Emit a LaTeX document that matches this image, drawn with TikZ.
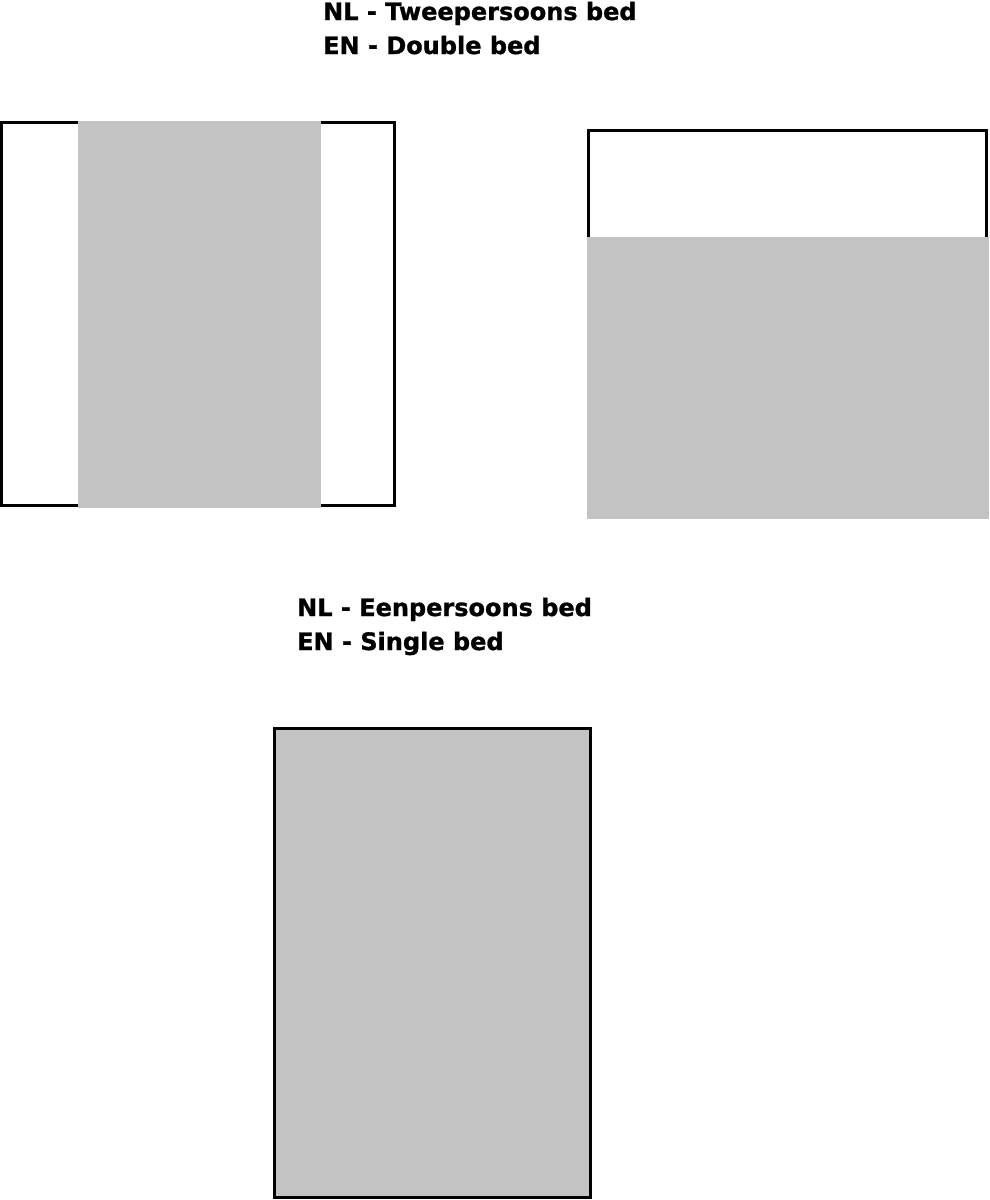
\documentclass[tikz,border=0pt]{standalone}
\usepackage{fontspec}
\newfontfamily\lblfont{DejaVu Sans}[BoldFeatures={FakeBold=1.2}]
\definecolor{bedgrey}{RGB}{195,195,195}
\begin{document}
\begin{tikzpicture}[x=1pt,y=-1pt,
  lbl/.style={anchor=base west,inner sep=0pt,font=\lblfont\bfseries\fontsize{24}{28}\selectfont},
  frame/.style={draw=black,line width=3pt},
  sheet/.style={fill=bedgrey}]
\useasboundingbox (0,0) rectangle (989,1200);
% labels
\node[lbl] (nl1) at (323,20) {NL - Tweepersoons bed};
\node[lbl] (en1) at (323,54) {EN - Double bed};
\node[lbl] (nl2) at (297,616) {NL - Eenpersoons bed};
\node[lbl] (en2) at (297,650) {EN - Single bed};
% double bed, top view
\draw[frame] (1.5,122.5) rectangle (394.5,505.5);
\fill[sheet] (78,120.5) rectangle (321,507.5);
% double bed, side view
\draw[frame] (588.5,237) -- (588.5,130) -- (986.5,130) -- (986.5,237);
\fill[sheet] (587,237) rectangle (989,519);
% single bed
\draw[frame,sheet] (274.5,728.5) rectangle (590.5,1197.5);
\end{tikzpicture}
\end{document}
